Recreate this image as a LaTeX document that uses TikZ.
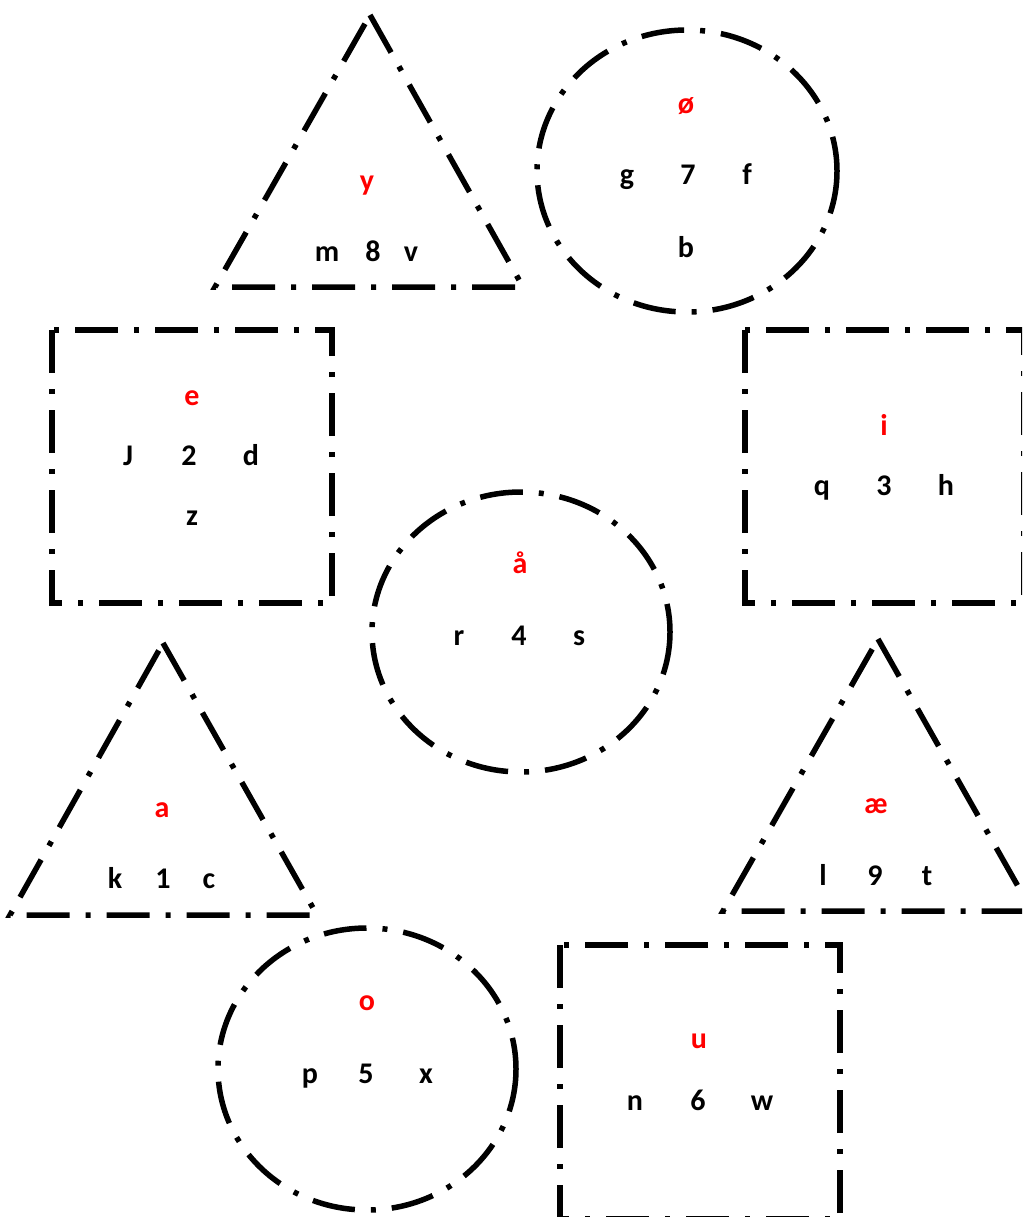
\documentclass[tikz,border=0pt]{standalone}
\usepackage{fontspec}
\setmainfont{Carlito}
\usepackage{xcolor}
\usetikzlibrary{positioning}

\begin{document}
\begin{tikzpicture}[
  x=1pt, y=-1pt,
  outline/.style={line width=5.5pt, dash pattern=on 43pt off 16pt on 5pt off 16pt},
  glyph/.style={font=\fontsize{30}{35}\selectfont\bfseries, anchor=base, inner sep=0pt},
  head/.style={glyph, text=red}
]
  \useasboundingbox (0,0) rectangle (1022,1217);
  \clip (0,0) rectangle (1022,1217);

  % Triangles
  \draw[outline] (370,15) -- (523,287) -- (215,287) -- cycle;
  \draw[outline] (163,643) -- (317,915) -- (10,915) -- cycle;
  \draw[outline] (878,639) -- (1032,911) -- (723,911) -- cycle;

  % Circles
  \draw[outline] (687,171) ellipse [x radius=150, y radius=141];
  \draw[outline] (521,632) ellipse [x radius=149, y radius=140];
  \draw[outline] (367,1069) ellipse [x radius=149, y radius=141];

  % Squares
  \draw[outline] (52,330) rectangle (332,603);
  \draw[outline] (745,330) rectangle (1024,603);
  \draw[outline] (560,945) rectangle (840,1219);

  % Labels (triangle y)
  \node[head]  (h-y) at (367,190) {y};
  \node[glyph] (l-m) at (327,261) {m};
  \node[glyph] (n-8) at (373,261) {8};
  \node[glyph] (l-v) at (411,261) {v};

  % Labels (circle oe)
  \node[head]  (h-oe) at (686,114) {ø};
  \node[glyph] (l-g) at (627,185) {g};
  \node[glyph] (n-7) at (688,185) {7};
  \node[glyph] (l-f) at (747,185) {f};
  \node[glyph] (l-b) at (686,257) {b};

  % Labels (square e)
  \node[head]  (h-e) at (192,405) {e};
  \node[glyph] (l-J) at (128,465) {J};
  \node[glyph] (n-2) at (189,465) {2};
  \node[glyph] (l-d) at (251,465) {d};
  \node[glyph] (l-z) at (192,525) {z};

  % Labels (square i)
  \node[head]  (h-i) at (884,435) {i};
  \node[glyph] (l-q) at (822,495) {q};
  \node[glyph] (n-3) at (884,495) {3};
  \node[glyph] (l-h) at (946,495) {h};

  % Labels (circle aa)
  \node[head]  (h-aa) at (520,573) {å};
  \node[glyph] (l-r) at (459,645) {r};
  \node[glyph] (n-4) at (519,645) {4};
  \node[glyph] (l-s) at (579,645) {s};

  % Labels (triangle a)
  \node[head]  (h-a) at (162,817) {a};
  \node[glyph] (l-k) at (115,888) {k};
  \node[glyph] (n-1) at (163,888) {1};
  \node[glyph] (l-c) at (209,888) {c};

  % Labels (triangle ae)
  \node[head]  (h-ae) at (876,813) {æ};
  \node[glyph] (l-l) at (823,885) {l};
  \node[glyph] (n-9) at (875,885) {9};
  \node[glyph] (l-t) at (927,885) {t};

  % Labels (circle o)
  \node[head]  (h-o) at (367,1010) {o};
  \node[glyph] (l-p) at (310,1083) {p};
  \node[glyph] (n-5) at (366,1083) {5};
  \node[glyph] (l-x) at (426,1083) {x};

  % Labels (square u)
  \node[head]  (h-u) at (699,1048) {u};
  \node[glyph] (l-n) at (635,1110) {n};
  \node[glyph] (n-6) at (698,1110) {6};
  \node[glyph] (l-w) at (762,1110) {w};
\end{tikzpicture}
\end{document}
